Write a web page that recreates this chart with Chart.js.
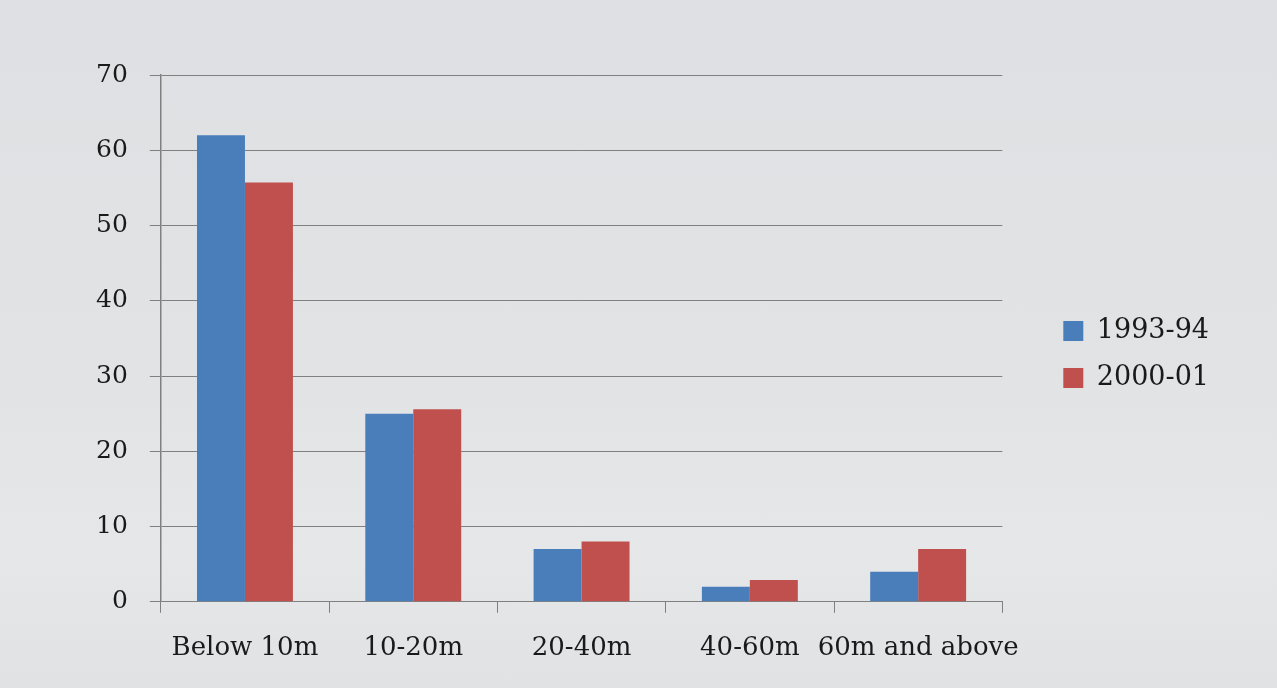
<!DOCTYPE html>
<html>
<head>
<meta charset="utf-8">
<script src="https://cdn.jsdelivr.net/npm/chart.js@4"></script>
<style>
  html, body { margin: 0; padding: 0; }
  body {
    width: 1277px; height: 688px; overflow: hidden;
    background: linear-gradient(180deg, #dfe0e3 0%, #e2e3e5 55%, #e6e7e8 80%, #e1e2e4 100%);
  }
  #wrap { width: 1277px; height: 688px; }
</style>
</head>
<body>
<div id="wrap"><canvas id="myChart" width="1277" height="688"></canvas></div>
<script>
const categories = ["Below 10m", "10-20m", "20-40m", "40-60m", "60m and above"];
const series1993 = [62, 25, 7, 2, 4];
const series2000 = [55.7, 25.6, 8, 2.9, 7];
const seriesNames = ["1993-94", "2000-01"];

const fontFamily = "'DejaVu Serif', 'Liberation Serif', serif";
const axisGrey = "#808080";

// move the legend a bit away from the plot, like the original slide
const legendShift = {
  id: "legendShift",
  afterLayout(chart) {
    const lg = chart.legend;
    if (!lg) return;
    lg.left += 41;
    lg.right += 41;
    lg.top -= 25;
    lg.bottom -= 25;
  }
};

const ctx = document.getElementById("myChart").getContext("2d");
Chart.defaults.font.family = fontFamily;
Chart.defaults.color = "#1a1a1a";

const myChart = new Chart(ctx, {
  type: "bar",
  data: {
    labels: categories,
    datasets: [
      {
        label: seriesNames[0],
        data: series1993,
        backgroundColor: "#4a7ebb"
      },
      {
        label: seriesNames[1],
        data: series2000,
        backgroundColor: "#c0504d"
      }
    ]
  },
  plugins: [legendShift],
  options: {
    responsive: false,
    animation: false,
    layout: {
      padding: { left: 74, right: 99, top: 75, bottom: 4 }
    },
    datasets: {
      bar: { barPercentage: 1, categoryPercentage: 0.57 }
    },
    plugins: {
      tooltip: { enabled: false },
      legend: {
        position: "right",
        labels: {
          boxWidth: 20,
          boxHeight: 20,
          padding: 20,
          font: { size: 27 },
          color: "#1a1a1a"
        }
      }
    },
    scales: {
      x: {
        grid: {
          offset: true,
          drawOnChartArea: false,
          tickLength: 11,
          color: axisGrey
        },
        border: { color: axisGrey, width: 1 },
        ticks: {
          padding: 20,
          maxRotation: 0,
          autoSkip: false,
          font: { size: 26 }
        }
      },
      y: {
        min: 0,
        max: 70,
        grid: {
          tickLength: 11,
          color: axisGrey
        },
        border: { color: axisGrey, width: 1.5 },
        ticks: {
          stepSize: 10,
          padding: 22,
          font: { size: 25 }
        }
      }
    }
  }
});
</script>
</body>
</html>
